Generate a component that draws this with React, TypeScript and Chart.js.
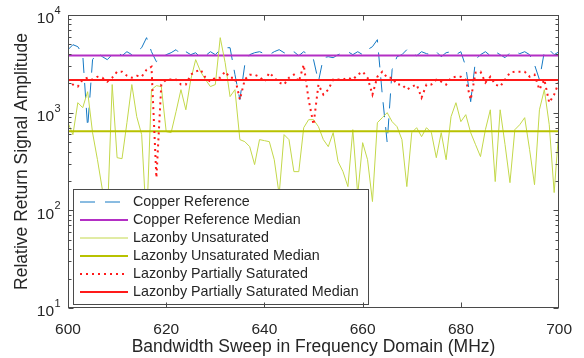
import React, { useEffect, useRef } from "react";
import { Chart, registerables } from "chart.js";

Chart.register(...registerables);

// ---------- data ----------
const FREQ_START = 600; // MHz, first sample
const FREQ_STEP = 1; // MHz between samples
const X_MIN = 600;
const X_MAX = 700;
const X_STEP = 20;
const Y_MIN = 10;
const Y_MAX = 10000;
const Y_DECADES = [10, 100, 1000, 10000];
const Y_EXPONENTS = ["1", "2", "3", "4"];

const COPPER = [
  4415, 4965, 4740, 3925, 702, 3490, 4110, 3740, 3490, 3925,
  4210, 3830, 4210, 3925, 4210, 4625, 5860, 4210, 3325, 3655,
  3925, 4110, 4415, 3925, 4210, 3925, 4110, 3655, 3830, 4210,
  3925, 4415, 4625, 4625, 2450, 1360, 3100, 3925, 4110, 4210,
  4020, 3925, 4210, 4415, 4110, 3925, 4210, 3830, 4210, 3925,
  3490, 2080, 3655, 3740, 3655, 3925, 4110, 4210, 3925, 4210,
  3925, 4415, 4740, 5590, 1530, 493, 2760, 3740, 3925, 4415,
  4110, 3830, 4210, 4020, 3925, 4210, 3740, 4110, 4210, 3925,
  4210, 2960, 1295, 3490, 3925, 4210, 3830, 4210, 3925, 3655,
  4110, 4210, 4020, 4210, 3925, 3100, 2180, 4210, 4415, 3925,
  4210,
];

const UNSATURATED = [
  790, 596, 1265, 1125, 1640, 624, 330, 163, 80, 1940,
  346, 338, 790, 1940, 910, 596, 71, 1720, 1890, 1850,
  639, 624, 1024, 1720, 1070, 2180, 3490, 2630, 2180, 1850,
  1940, 5860, 3250, 1460, 1720, 530, 505, 449, 294, 530,
  517, 505, 330, 145, 596, 530, 249, 249, 702, 848,
  848, 719, 530, 449, 624, 315, 249, 175, 670, 145,
  493, 330, 123, 790, 889, 1000, 809, 719, 530, 175,
  624, 702, 568, 702, 624, 346, 624, 330, 910, 1265,
  809, 954, 624, 470, 355, 670, 1070, 197, 1070, 470,
  192, 670, 754, 889, 418, 183, 1070, 1720, 754, 152,
  719,
];

const PARTIAL = [
  2180, 1940, 1850, 2180, 2280, 2180, 2335, 2280, 2080, 2280,
  2630, 2630, 2390, 2280, 2390, 2335, 2755, 2955, 216, 1940,
  2180, 2180, 2180, 1940, 1940, 2450, 2630, 2755, 2280, 2080,
  2280, 2280, 2630, 2280, 2280, 1360, 2180, 2450, 2450, 2335,
  2080, 2570, 2280, 2030, 1940, 2280, 2450, 2080, 3100, 1360,
  754, 1940, 1530, 1720, 2180, 2180, 2180, 2280, 2180, 2450,
  2630, 2280, 1530, 2335, 2630, 2280, 2280, 1940, 1940, 1720,
  1850, 1940, 1425, 1940, 1940, 2180, 2080, 1940, 2280, 2335,
  2335, 2180, 1360, 2570, 2630, 2030, 2335, 1940, 1850, 2180,
  2570, 2630, 2630, 2630, 2335, 2450, 1720, 2180, 1265, 1530,
  2080,
];

const COPPER_MEDIAN = 3860;
const UNSATURATED_MEDIAN = 645;
const PARTIAL_MEDIAN = 2160;

const LABELS = [
  "Copper Reference",
  "Copper Reference Median",
  "Lazonby Unsaturated",
  "Lazonby Unsaturated Median",
  "Lazonby Partially Saturated",
  "Lazonby Partially Saturated Median",
];

const X_TITLE = "Bandwidth Sweep in Frequency Domain (MHz)";
const Y_TITLE = "Relative Return Signal Amplitude";

// ---------- styles ----------
const FONT = "'Liberation Sans', Arial, Helvetica, sans-serif";
const TEXT = "#262626";
const AXIS = "#4a4a4a";
const C_COPPER = "rgb(20,120,195)";
const C_COPPER_MED = "#b32fc4";
const C_UNSAT = "#c3d84a";
const C_UNSAT_MED = "#b8c200";
const C_PARTIAL = "#ff1a1a";
const C_PARTIAL_MED = "#ff1a1a";

const framePlugin = {
  id: "frame",
  afterDatasetsDraw(chart: any) {
    const { ctx, chartArea: a, scales } = chart;
    const xs = scales.x;
    const ys = scales.y;
    ctx.save();

    // legend box (drawn over the data, as in the original)
    const lx = 73.5, ly = 189.5, lw = 295, lh = 115;
    ctx.fillStyle = "#fff";
    ctx.fillRect(lx, ly, lw, lh);
    ctx.strokeStyle = AXIS;
    ctx.lineWidth = 1;
    ctx.setLineDash([]);
    ctx.strokeRect(lx, ly, lw, lh);
    chart.data.datasets.forEach((ds: any, i: number) => {
      const yy = 202 + i * 18;
      ctx.beginPath();
      ctx.strokeStyle = ds.borderColor;
      ctx.lineWidth = ds.borderWidth;
      ctx.setLineDash(ds.borderDash || []);
      ctx.moveTo(80, yy);
      ctx.lineTo(128, yy);
      ctx.stroke();
      ctx.setLineDash([]);
      ctx.fillStyle = TEXT;
      ctx.font = `14.3px ${FONT}`;
      ctx.textAlign = "left";
      ctx.textBaseline = "middle";
      ctx.fillText(ds.label, 133, yy + 0.5);
    });

    // axes box
    ctx.strokeStyle = AXIS;
    ctx.lineWidth = 1;
    const L = Math.round(a.left) + 0.5;
    const R = Math.round(a.right) - 0.5;
    const T = Math.round(a.top) + 0.5;
    const B = Math.round(a.bottom) - 0.5;
    ctx.strokeRect(L, T, R - L, B - T);

    // x ticks (bottom and top, inward)
    ctx.beginPath();
    for (let v = X_MIN + X_STEP; v < X_MAX; v += X_STEP) {
      const px = Math.round(xs.getPixelForValue(v)) + 0.5;
      ctx.moveTo(px, B);
      ctx.lineTo(px, B - 5);
      ctx.moveTo(px, T);
      ctx.lineTo(px, T + 5);
    }
    // y ticks (left and right, inward), major and minor
    Y_DECADES.forEach((d, i) => {
      const py = Math.round(ys.getPixelForValue(d)) + 0.5;
      ctx.moveTo(L, py);
      ctx.lineTo(L + 5, py);
      ctx.moveTo(R, py);
      ctx.lineTo(R - 5, py);
      if (i < Y_DECADES.length - 1) {
        for (let k = 2; k <= 9; k++) {
          const pm = Math.round(ys.getPixelForValue(d * k)) + 0.5;
          ctx.moveTo(L, pm);
          ctx.lineTo(L + 3, pm);
          ctx.moveTo(R, pm);
          ctx.lineTo(R - 3, pm);
        }
      }
    });
    ctx.stroke();

    // y tick labels 10^n
    ctx.fillStyle = TEXT;
    Y_DECADES.forEach((d, i) => {
      const py = ys.getPixelForValue(d);
      ctx.font = `15.5px ${FONT}`;
      ctx.textAlign = "right";
      ctx.textBaseline = "middle";
      ctx.fillText("10", 54, py + 4);
      ctx.font = `11px ${FONT}`;
      ctx.textAlign = "left";
      ctx.fillText(Y_EXPONENTS[i], 54.5, py - 4);
    });

    // axis titles
    ctx.font = `17.5px ${FONT}`;
    ctx.textAlign = "center";
    ctx.textBaseline = "middle";
    ctx.fillText(X_TITLE, (a.left + a.right) / 2, 347);
    ctx.save();
    ctx.translate(22, (a.top + a.bottom) / 2);
    ctx.rotate(-Math.PI / 2);
    ctx.fillText(Y_TITLE, 0, 0);
    ctx.restore();

    ctx.restore();
  },
};

export default function App() {
  const ref = useRef<HTMLCanvasElement>(null);
  useEffect(() => {
    const canvas = ref.current!;
    const freqs = COPPER.map((_, i) => FREQ_START + i * FREQ_STEP);
    const series = (vals: number[]) => vals.map((v, i) => ({ x: freqs[i], y: v }));
    const flat = (v: number) => [
      { x: X_MIN, y: v },
      { x: X_MAX, y: v },
    ];
    const chart = new Chart(canvas, {
      type: "line",
      data: {
        datasets: [
          { label: LABELS[0], data: series(COPPER), borderColor: C_COPPER, borderWidth: 1, borderDash: [15, 10], order: 5 },
          { label: LABELS[1], data: flat(COPPER_MEDIAN), borderColor: C_COPPER_MED, borderWidth: 2, order: 4 },
          { label: LABELS[2], data: series(UNSATURATED), borderColor: C_UNSAT, borderWidth: 1, order: 3 },
          { label: LABELS[3], data: flat(UNSATURATED_MEDIAN), borderColor: C_UNSAT_MED, borderWidth: 2, order: 2 },
          { label: LABELS[4], data: series(PARTIAL), borderColor: C_PARTIAL, borderWidth: 2, borderDash: [2, 4], order: 1 },
          { label: LABELS[5], data: flat(PARTIAL_MEDIAN), borderColor: C_PARTIAL_MED, borderWidth: 2, order: 0 },
        ] as any,
      },
      options: {
        animation: false,
        responsive: false,
        devicePixelRatio: 1,
        layout: { padding: { top: 15, right: 23, left: 0, bottom: 0 } },
        elements: { point: { radius: 0 }, line: { tension: 0 } },
        plugins: { legend: { display: false }, tooltip: { enabled: false } },
        scales: {
          x: {
            type: "linear",
            min: X_MIN,
            max: X_MAX,
            afterFit: (s: any) => {
              s.height = 50;
            },
            grid: { display: false, drawTicks: false },
            border: { display: false },
            ticks: {
              stepSize: X_STEP,
              autoSkip: false,
              maxRotation: 0,
              padding: 12,
              color: TEXT,
              font: { family: FONT, size: 15.5 },
            },
          },
          y: {
            type: "logarithmic",
            min: Y_MIN,
            max: Y_MAX,
            afterFit: (s: any) => {
              s.width = 68;
            },
            grid: { display: false, drawTicks: false },
            border: { display: false },
            ticks: { display: false },
          },
        },
      } as any,
      plugins: [framePlugin],
    });
    return () => chart.destroy();
  }, []);
  return (
    <div style={{ position: "fixed", left: 0, top: 0, width: 584, height: 358, background: "#fff" }}>
      <canvas ref={ref} width={584} height={358} style={{ display: "block" }} />
    </div>
  );
}
